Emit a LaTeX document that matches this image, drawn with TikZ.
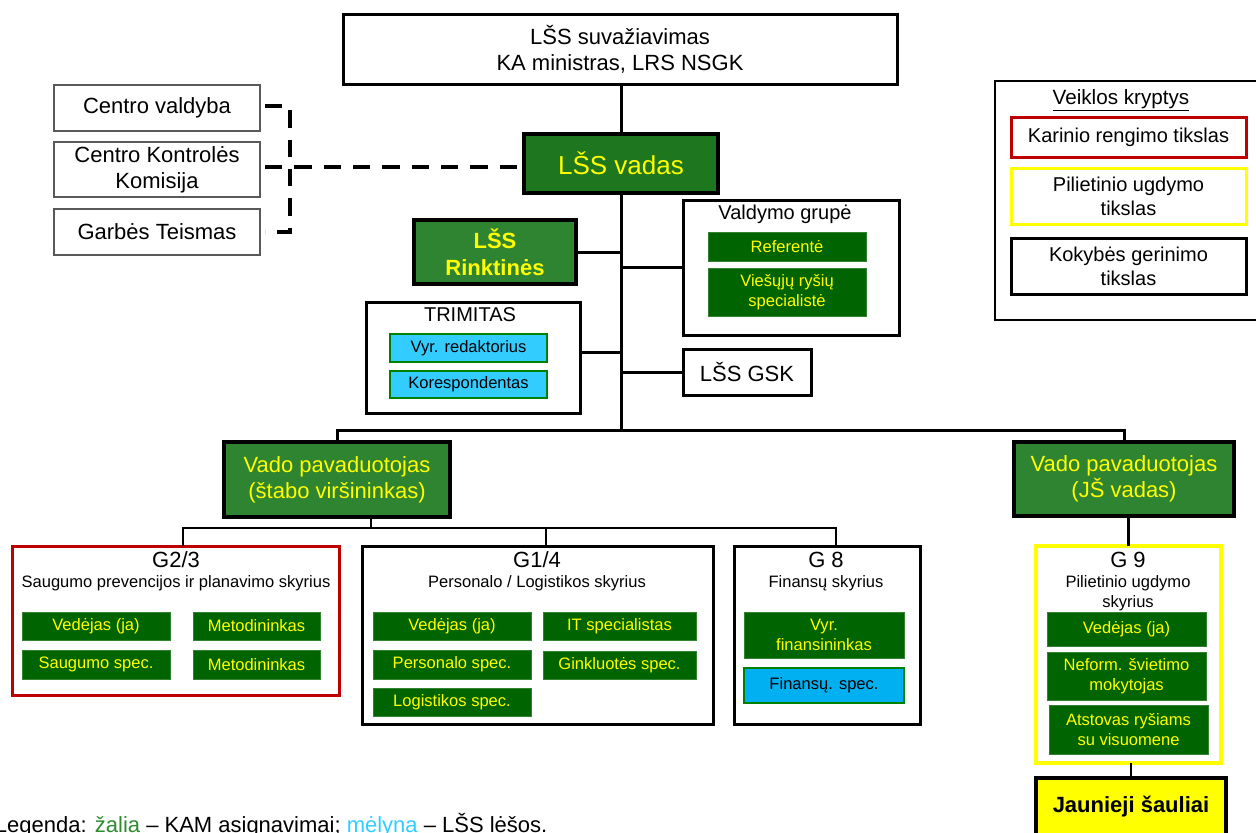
\documentclass[tikz,border=0pt]{standalone}
\usepackage{fontspec}
\setmainfont{Liberation Sans}
\definecolor{vadasG}{HTML}{1E761E}
\definecolor{bigG}{HTML}{2F8432}
\definecolor{smallG}{HTML}{006400}
\definecolor{txtY}{HTML}{FFFF00}
\definecolor{cyanA}{HTML}{33CCFF}
\definecolor{cyanB}{HTML}{00B0F0}
\definecolor{redB}{HTML}{C00000}
\definecolor{yelB}{HTML}{FFFF00}
\definecolor{legG}{HTML}{2E8B2E}
\begin{document}
\begin{tikzpicture}[x=0.75pt,y=-0.75pt,
  every node/.style={inner sep=0pt,outer sep=0pt,align=center},
  sz/.style 2 args={minimum width=#1*0.75pt,minimum height=#2*0.75pt},
  fbig/.style={font=\fontsize{16.5}{19.5}\selectfont},
  fmid/.style={font=\fontsize{15}{18}\selectfont},
  fsm/.style={font=\fontsize{12.4}{15}\selectfont},
  cbox/.style={draw=black!65,line width=1pt,fill=white,fbig},
  wbox/.style={draw=black,line width=2.25pt,fill=white},
  bigbox/.style={draw=black,line width=3pt,fill=bigG,text=txtY},
  sg/.style={fill=smallG,draw=smallG!80!white,line width=0.6pt,text=txtY,fsm},
  cb/.style={fill=cyanA,draw=green!50!black,line width=1pt,text=black,fsm},
  conn/.style={draw=black,line width=2.25pt},
  thinconn/.style={draw=black,line width=1.6pt},
  dsh/.style={draw=black,line width=3pt,dash pattern=on 13pt off 9pt}]
\useasboundingbox (0,0) rectangle (1256,832);

% top
\node[wbox,fbig,sz={554}{70}] (top) at (620,49) {LŠS suvažiavimas\\KA ministras, LRS NSGK};

% left committees
\node[cbox,sz={206}{46}] (cv) at (157,108) {Centro valdyba};
\node[cbox,sz={206}{55}] (ck) at (157,169.5) {Centro Kontrolės\\Komisija};
\node[cbox,sz={206}{46}] (gt) at (157,232) {Garbės Teismas};

% commander
\node[bigbox,fill=vadasG,font=\fontsize{19.5}{22}\selectfont,sz={194}{59}] (vadas) at (621,163.5) {LŠS vadas};
\node[bigbox,font=\fontsize{16.5}{20}\selectfont\bfseries,sz={162}{64}] (rink) at (495,252) {LŠS\\Rinktinės};

% Valdymo grupe
\node[wbox,sz={216}{135}] (vg) at (791,267.5) {};
\node[fmid] (vgt) at (785,214) {Valdymo grupė};
\node[sg,sz={158}{29}] (ref) at (787,246.5) {Referentė};
\node[sg,sz={158}{48}] (vrs) at (787,292) {Viešųjų ryšių\\specialistė};

% LSS GSK
\node[wbox,fbig,sz={128}{46}] (gsk) at (747,372) {LŠS GSK};

% Trimitas
\node[wbox,sz={214}{111}] (tri) at (473,357.5) {};
\node[fmid] (trit) at (470,315) {TRIMITAS};
\node[cb,sz={157}{28}] (vr) at (468.5,348) {Vyr. redaktorius};
\node[cb,sz={157}{27}] (kor) at (468.5,384.5) {Korespondentas};

% Veiklos kryptys
\node[draw=black,line width=1pt,fill=white,sz={271}{239}] (vk) at (1130.5,200.5) {};
\node[font=\fontsize{15.5}{18}\selectfont] (vkt) at (1121,100) {\underline{Veiklos kryptys}};
\node[draw=redB,line width=2.25pt,fmid,sz={235}{40}] (kar) at (1128.5,137) {Karinio rengimo tikslas};
\node[draw=yelB,line width=2.25pt,fmid,sz={235}{56}] (pil) at (1128.5,196) {Pilietinio ugdymo\\tikslas};
\node[draw=black,line width=2.25pt,fmid,sz={235}{56}] (kok) at (1128.5,266) {Kokybės gerinimo\\tikslas};

% deputies
\node[bigbox,line width=3.4pt,fbig,sz={226}{75}] (vp1) at (337,479.5) {Vado pavaduotojas\\(štabo viršininkas)};
\node[bigbox,line width=3.4pt,fbig,sz={220}{74}] (vp2) at (1124,479) {Vado pavaduotojas\\(JŠ vadas)};

% G2/3
\node[draw=redB,line width=2.25pt,fill=white,sz={327}{149}] (g23) at (175.5,620.5) {};
\node[fbig] (g23t) at (176,560) {G2/3};
\node[fsm] (g23s) at (176,583) {Saugumo prevencijos ir planavimo skyrius};
\node[sg,sz={148}{28}] (g23a) at (96,626) {Vedėjas (ja)};
\node[sg,sz={127}{28}] (g23b) at (256.5,626) {Metodininkas};
\node[sg,sz={148}{29}] (g23c) at (96,664.5) {Saugumo spec.};
\node[sg,sz={127}{29}] (g23d) at (256.5,664.5) {Metodininkas};

% G1/4
\node[wbox,sz={351}{178}] (g14) at (537.5,635) {};
\node[fbig] (g14t) at (537,560) {G1/4};
\node[fsm] (g14s) at (537,583) {Personalo / Logistikos skyrius};
\node[sg,sz={158}{28}] (g14a) at (452,626) {Vedėjas (ja)};
\node[sg,sz={153}{28}] (g14b) at (619.5,626) {IT specialistas};
\node[sg,sz={158}{29}] (g14c) at (452,664.5) {Personalo spec.};
\node[sg,sz={153}{28}] (g14d) at (619.5,665) {Ginkluotės spec.};
\node[sg,sz={158}{28}] (g14e) at (452,702) {Logistikos spec.};

% G8
\node[wbox,sz={186}{178}] (g8) at (827,635) {};
\node[fbig] (g8t) at (826,560) {G 8};
\node[fsm] (g8s) at (826,583) {Finansų skyrius};
\node[sg,sz={160}{46}] (g8a) at (824,635) {Vyr.\\finansininkas};
\node[cb,fill=cyanB,sz={160}{35}] (g8b) at (824,685.5) {Finansų. spec.};

% G9
\node[draw=yelB,line width=3pt,fill=white,sz={185}{217}] (g9) at (1128.5,654.5) {};
\node[fbig] (g9t) at (1128,560) {G 9};
\node[fsm] (g9s) at (1128,593) {Pilietinio ugdymo\\skyrius};
\node[sg,sz={159}{34}] (g9a) at (1126.5,629) {Vedėjas (ja)};
\node[sg,sz={159}{48}] (g9b) at (1126.5,676) {Neform. švietimo\\mokytojas};
\node[sg,sz={159}{49}] (g9c) at (1128.5,729.5) {Atstovas ryšiams\\su visuomene};

% Jaunieji sauliai
\node[draw=black,line width=3pt,fill=yelB,font=\fontsize{16.5}{19.5}\selectfont\bfseries,sz={190}{58}] (js) at (1131,807) {Jaunieji šauliai};

% connectors
\coordinate (bus) at (621,430);
\coordinate (sb) at (371,528);
\draw[conn] (top.south -| vadas.north) -- (vadas.north);
\draw[conn] (vadas.south) -- (vadas.south |- bus);
\draw[conn] (rink.east) -- (rink.east -| bus);
\draw[conn] (vg.west) -- (vg.west -| bus);
\draw[conn] (gsk.west) -- (gsk.west -| bus);
\draw[conn] ([yshift=3.5pt]tri.east) -- ([yshift=3.5pt]tri.east -| bus);
\draw[conn] (vp1.north) |- (bus) -| (vp2.north);
\draw[thinconn] (sb |- vp1.south) -- (sb);
\draw[thinconn] ([xshift=5.5pt]g23.north) |- (sb) -| ([xshift=7pt]g8.north);
\draw[thinconn] ([xshift=6.5pt]g14.north) -- ([xshift=6.5pt]g14.north |- sb);
\draw[conn] (g9.north) -- (g9.north |- vp2.south);
\draw[thinconn] (js.north) -- (js.north |- g9.south);

% dashed links
\coordinate (spine) at (290,167);
\draw[dsh] ([xshift=3.75pt,yshift=1.5pt]cv.east) -| (spine |- gt.east) -- ([xshift=3.75pt]gt.east);
\draw[dsh] ([xshift=3.75pt,yshift=2pt]ck.east) -- ([yshift=2pt]ck.east -| vadas.west);

% legend text
\begin{scope}
\clip (0,0) rectangle (1256,832);
\node[anchor=base west,font=\fontsize{16.5}{19.5}\selectfont] (leg) at (-5,832) {Legenda: \textcolor{legG}{žalia} – KAM asignavimai; \textcolor{cyanA}{mėlyna} – LŠS lėšos.};
\end{scope}
\end{tikzpicture}
\end{document}
